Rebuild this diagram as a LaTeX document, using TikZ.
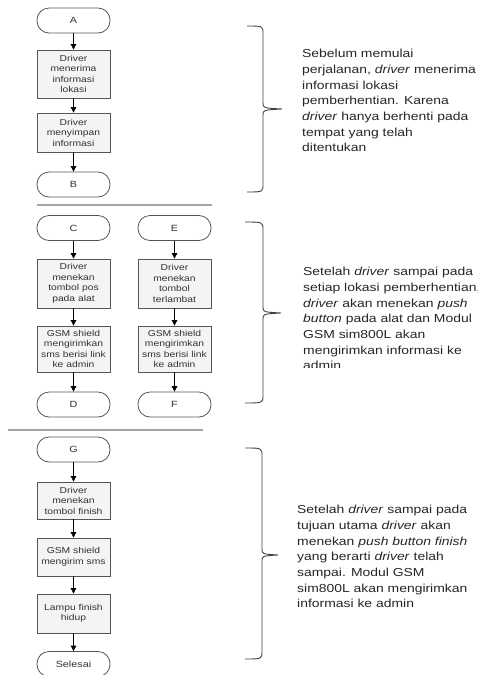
\documentclass[tikz,border=0pt]{standalone}
\usepackage{fontspec}
\setmainfont{Liberation Sans}[FakeStretch=1.2]
\usetikzlibrary{arrows.meta}
\definecolor{edge}{RGB}{85,85,85}
\definecolor{txt}{RGB}{50,50,50}
\newcommand\mybrace[6]{%
  \draw[bracestyle] (#1,#4) .. controls (#2,#4) .. (#2,{#4+8}) -- (#2,{#6-6})
    .. controls (#2,{#6-1}) .. (#3,#6) .. controls (#2,{#6+1}) .. (#2,{#6+6})
    -- (#2,{#5-8}) .. controls (#2,#5) .. (#1,#5);}
\begin{document}
\begin{tikzpicture}[x=1pt,y=-1pt,
  term/.style={draw=edge,fill=white,line width=0.8pt,rounded corners=12pt,
    minimum width=73pt,minimum height=25pt,inner sep=0pt,text=txt,
    font=\fontsize{9}{10.5}\selectfont},
  proc/.style={draw=edge,fill=gray!9,line width=0.8pt,minimum width=73pt,
    inner sep=0pt,align=center,text=txt,font=\fontsize{8.6}{10.5}\selectfont},
  arr/.style={-{Triangle[length=5.5pt,width=5.5pt]},line width=0.8pt,black},
  sep/.style={draw=gray!70,line width=1.2pt},
  bracestyle/.style={draw=black!75,line width=0.9pt},
  desc/.style={anchor=north west,inner sep=0pt,align=left,text=black!85,
    font=\fontsize{11.6}{15.7}\selectfont}]
\useasboundingbox (0,0) rectangle (477,675);
% ---- section 1
\node[term] (A) at (73.5,20.5) {A};
\node[proc,minimum height=48pt] (a1) at (73.5,74) {Driver\\menerima\\informasi\\lokasi};
\node[proc,minimum height=39pt] (a2) at (73.5,132.5) {Driver\\menyimpan\\informasi};
\node[term] (B) at (73.5,184.5) {B};
\draw[arr] (A) -- (a1);
\draw[arr] (a1) -- (a2);
\draw[arr] (a2) -- (B);
\draw[sep] (37,205) -- (212,205);
% ---- section 2
\node[term] (C) at (73.5,228) {C};
\node[proc,minimum height=49pt] (c1) at (73.5,283.5) {Driver\\menekan\\tombol pos\\pada alat};
\node[proc,minimum height=46pt] (c2) at (73.5,349) {GSM shield\\mengirimkan\\sms berisi link\\ke admin};
\node[term] (D) at (73.5,404.5) {D};
\draw[arr] (C) -- (c1);
\draw[arr] (c1) -- (c2);
\draw[arr] (c2) -- (D);
\node[term] (E) at (174.5,228) {E};
\node[proc,minimum height=49pt] (e1) at (174.5,283.5) {Driver\\menekan\\tombol\\terlambat};
\node[proc,minimum height=46pt] (e2) at (174.5,349) {GSM shield\\mengirimkan\\sms berisi link\\ke admin};
\node[term] (F) at (174.5,404.5) {F};
\draw[arr] (E) -- (e1);
\draw[arr] (e1) -- (e2);
\draw[arr] (e2) -- (F);
\draw[sep] (8,430) -- (203,430);
% ---- section 3
\node[term] (G) at (73.5,449.5) {G};
\node[proc,minimum height=37pt] (g1) at (73.5,500.5) {Driver\\menekan\\tombol finish};
\node[proc,minimum height=38pt] (g2) at (73.5,557) {GSM shield\\mengirim sms};
\node[proc,minimum height=39pt] (g3) at (73.5,613.5) {Lampu finish\\hidup};
\node[term] (S) at (73.5,664) {Selesai};
\draw[arr] (G) -- (g1);
\draw[arr] (g1) -- (g2);
\draw[arr] (g2) -- (g3);
\draw[arr] (g3) -- (S);
% ---- braces
\mybrace{247}{263}{282}{26}{192}{109}
\mybrace{245}{263}{281}{222}{403}{313}
\mybrace{245}{262}{278}{448}{659}{555}
% ---- descriptions
\node[desc] (t1) at (302,49) {Sebelum memulai\\perjalanan, \textit{driver} menerima\\informasi lokasi\\pemberhentian. Karena\\\textit{driver} hanya berhenti pada\\tempat yang telah\\ditentukan};
\begin{scope}
\clip (290,240) rectangle (477,367);
\node[desc] (t2) at (303,267) {Setelah \textit{driver} sampai pada\\setiap lokasi pemberhentian,\\\textit{driver} akan menekan \textit{push}\\\textit{button} pada alat dan Modul\\GSM sim800L akan\\mengirimkan informasi ke\\admin};
\end{scope}
\node[desc] (t3) at (297,505) {Setelah \textit{driver} sampai pada\\tujuan utama \textit{driver} akan\\menekan \textit{push button finish}\\yang berarti \textit{driver} telah\\sampai. Modul GSM\\sim800L akan mengirimkan\\informasi ke admin};
\end{tikzpicture}
\end{document}
